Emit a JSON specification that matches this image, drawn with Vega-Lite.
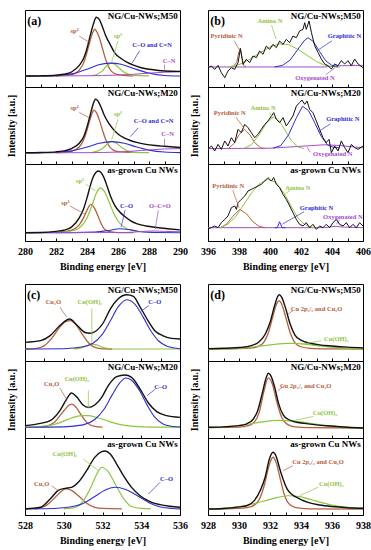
{
"$schema":"https://vega.github.io/schema/vega-lite/v6.json",
"padding":{"left":5,"top":9,"right":0,"bottom":0},
"spacing":11,
"vconcat":[
{"hconcat":[
{"vconcat":[
{"width":155,"height":77,"encoding":{"x":{"field":"x","type":"quantitative","scale":{"domain":[280,290],"nice":false,"zero":false},"axis":{"title":null,"labels":false,"domain":false,"tickSize":-3,"values":[280,281,282,283,284,285,286,287,288,289,290]}},"y":{"field":"y","type":"quantitative","scale":{"domain":[0,100],"nice":false},"axis":null},"color":{"field":"c","type":"nominal","scale":{"domain":["t","r","g","b","p"],"range":["#111111","#b5603c","#8dc63f","#2e2ed1","#a64cc9"]},"legend":null}},
"layer":[
{"data":{"name":"a1"},"mark":{"type":"line","interpolate":"monotone"},"encoding":{"strokeWidth":{"field":"c","type":"nominal","scale":{"domain":["t","r","g","b","p"],"range":[1.4,1,1,1,1]},"legend":null}}},
{"data":{"name":"arr"},"transform":[{"filter":"datum.p=='a1'"}],"mark":{"type":"rule","strokeWidth":0.7},"encoding":{"x2":{"field":"x2"},"y2":{"field":"y2"}}},
{"data":{"name":"lab"},"transform":[{"filter":"datum.p=='a1'"}],"mark":{"type":"text","fontSize":6.5},"encoding":{"text":{"field":"t"}}},
{"data":{"name":"tit"},"transform":[{"filter":"datum.p=='a1'"}],"mark":{"type":"text","align":"right","fontSize":9},"encoding":{"text":{"field":"t"},"color":{"value":"#000"}}},
{"data":{"name":"let"},"transform":[{"filter":"datum.p=='a'"}],"mark":{"type":"text","align":"left","fontSize":12},"encoding":{"text":{"field":"t"},"color":{"value":"#000"}}}
]},
{"width":155,"height":77,"encoding":{"x":{"field":"x","type":"quantitative","scale":{"domain":[280,290],"nice":false,"zero":false},"axis":{"title":null,"labels":false,"domain":false,"tickSize":-3,"values":[280,281,282,283,284,285,286,287,288,289,290]}},"y":{"field":"y","type":"quantitative","scale":{"domain":[0,100],"nice":false},"axis":{"title":"Intensity [a.u.]","labels":false,"ticks":false,"domain":false,"titlePadding":9}},"color":{"field":"c","type":"nominal","scale":{"domain":["t","r","g","b","p"],"range":["#111111","#b5603c","#8dc63f","#2e2ed1","#a64cc9"]},"legend":null}},
"layer":[
{"data":{"name":"a2"},"mark":{"type":"line","interpolate":"monotone"},"encoding":{"strokeWidth":{"field":"c","type":"nominal","scale":{"domain":["t","r","g","b","p"],"range":[1.4,1,1,1,1]},"legend":null}}},
{"data":{"name":"arr"},"transform":[{"filter":"datum.p=='a2'"}],"mark":{"type":"rule","strokeWidth":0.7},"encoding":{"x2":{"field":"x2"},"y2":{"field":"y2"}}},
{"data":{"name":"lab"},"transform":[{"filter":"datum.p=='a2'"}],"mark":{"type":"text","fontSize":6.5},"encoding":{"text":{"field":"t"}}},
{"data":{"name":"tit"},"transform":[{"filter":"datum.p=='a2'"}],"mark":{"type":"text","align":"right","fontSize":9},"encoding":{"text":{"field":"t"},"color":{"value":"#000"}}}
]},
{"width":155,"height":77,"encoding":{"x":{"field":"x","type":"quantitative","scale":{"domain":[280,290],"nice":false,"zero":false},"axis":{"title":"Binding energy [eV]","values":[280,281,282,283,284,285,286,287,288,289,290],"labelExpr":"datum.value % 2 == 0 ? datum.label : ''","tickSize":-3,"labelPadding":8,"labelFlush":false,"labelOverlap":false,"titlePadding":5,"domain":false}},"y":{"field":"y","type":"quantitative","scale":{"domain":[0,100],"nice":false},"axis":null},"color":{"field":"c","type":"nominal","scale":{"domain":["t","r","g","b","p"],"range":["#111111","#b5603c","#8dc63f","#2e2ed1","#a64cc9"]},"legend":null}},
"layer":[
{"data":{"name":"a3"},"mark":{"type":"line","interpolate":"monotone"},"encoding":{"strokeWidth":{"field":"c","type":"nominal","scale":{"domain":["t","r","g","b","p"],"range":[1.4,1,1,1,1]},"legend":null}}},
{"data":{"name":"arr"},"transform":[{"filter":"datum.p=='a3'"}],"mark":{"type":"rule","strokeWidth":0.7},"encoding":{"x2":{"field":"x2"},"y2":{"field":"y2"}}},
{"data":{"name":"lab"},"transform":[{"filter":"datum.p=='a3'"}],"mark":{"type":"text","fontSize":6.5},"encoding":{"text":{"field":"t"}}},
{"data":{"name":"tit"},"transform":[{"filter":"datum.p=='a3'"}],"mark":{"type":"text","align":"right","fontSize":9},"encoding":{"text":{"field":"t"},"color":{"value":"#000"}}}
]}
],"spacing":0,"bounds":"flush"},
{"vconcat":[
{"width":155,"height":77,"encoding":{"x":{"field":"x","type":"quantitative","scale":{"domain":[396,406],"nice":false,"zero":false},"axis":{"title":null,"labels":false,"domain":false,"tickSize":-3,"values":[396,397,398,399,400,401,402,403,404,405,406]}},"y":{"field":"y","type":"quantitative","scale":{"domain":[0,100],"nice":false},"axis":null},"color":{"field":"c","type":"nominal","scale":{"domain":["t","r","g","b","p"],"range":["#111111","#b5603c","#8dc63f","#2e2ed1","#a64cc9"]},"legend":null}},
"layer":[
{"data":{"name":"b1"},"mark":{"type":"line","interpolate":"linear","strokeWidth":1}},
{"data":{"name":"arr"},"transform":[{"filter":"datum.p=='b1'"}],"mark":{"type":"rule","strokeWidth":0.7},"encoding":{"x2":{"field":"x2"},"y2":{"field":"y2"}}},
{"data":{"name":"lab"},"transform":[{"filter":"datum.p=='b1'"}],"mark":{"type":"text","fontSize":6.5},"encoding":{"text":{"field":"t"}}},
{"data":{"name":"tit"},"transform":[{"filter":"datum.p=='b1'"}],"mark":{"type":"text","align":"right","fontSize":9},"encoding":{"text":{"field":"t"},"color":{"value":"#000"}}},
{"data":{"name":"let"},"transform":[{"filter":"datum.p=='b'"}],"mark":{"type":"text","align":"left","fontSize":12},"encoding":{"text":{"field":"t"},"color":{"value":"#000"}}}
]},
{"width":155,"height":77,"encoding":{"x":{"field":"x","type":"quantitative","scale":{"domain":[396,406],"nice":false,"zero":false},"axis":{"title":null,"labels":false,"domain":false,"tickSize":-3,"values":[396,397,398,399,400,401,402,403,404,405,406]}},"y":{"field":"y","type":"quantitative","scale":{"domain":[0,100],"nice":false},"axis":{"title":"Intensity [a.u.]","labels":false,"ticks":false,"domain":false,"titlePadding":9}},"color":{"field":"c","type":"nominal","scale":{"domain":["t","r","g","b","p"],"range":["#111111","#b5603c","#8dc63f","#2e2ed1","#a64cc9"]},"legend":null}},
"layer":[
{"data":{"name":"b2"},"mark":{"type":"line","interpolate":"linear","strokeWidth":1}},
{"data":{"name":"arr"},"transform":[{"filter":"datum.p=='b2'"}],"mark":{"type":"rule","strokeWidth":0.7},"encoding":{"x2":{"field":"x2"},"y2":{"field":"y2"}}},
{"data":{"name":"lab"},"transform":[{"filter":"datum.p=='b2'"}],"mark":{"type":"text","fontSize":6.5},"encoding":{"text":{"field":"t"}}},
{"data":{"name":"tit"},"transform":[{"filter":"datum.p=='b2'"}],"mark":{"type":"text","align":"right","fontSize":9},"encoding":{"text":{"field":"t"},"color":{"value":"#000"}}}
]},
{"width":155,"height":77,"encoding":{"x":{"field":"x","type":"quantitative","scale":{"domain":[396,406],"nice":false,"zero":false},"axis":{"title":"Binding energy [eV]","values":[396,397,398,399,400,401,402,403,404,405,406],"labelExpr":"datum.value % 2 == 0 ? datum.label : ''","tickSize":-3,"labelPadding":8,"labelFlush":false,"labelOverlap":false,"titlePadding":5,"domain":false}},"y":{"field":"y","type":"quantitative","scale":{"domain":[0,100],"nice":false},"axis":null},"color":{"field":"c","type":"nominal","scale":{"domain":["t","r","g","b","p"],"range":["#111111","#b5603c","#8dc63f","#2e2ed1","#a64cc9"]},"legend":null}},
"layer":[
{"data":{"name":"b3"},"mark":{"type":"line","interpolate":"linear","strokeWidth":1}},
{"data":{"name":"arr"},"transform":[{"filter":"datum.p=='b3'"}],"mark":{"type":"rule","strokeWidth":0.7},"encoding":{"x2":{"field":"x2"},"y2":{"field":"y2"}}},
{"data":{"name":"lab"},"transform":[{"filter":"datum.p=='b3'"}],"mark":{"type":"text","fontSize":6.5},"encoding":{"text":{"field":"t"}}},
{"data":{"name":"tit"},"transform":[{"filter":"datum.p=='b3'"}],"mark":{"type":"text","align":"right","fontSize":9},"encoding":{"text":{"field":"t"},"color":{"value":"#000"}}}
]}
],"spacing":0,"bounds":"flush"}
],"spacing":0},
{"hconcat":[
{"vconcat":[
{"width":155,"height":77,"encoding":{"x":{"field":"x","type":"quantitative","scale":{"domain":[528,536],"nice":false,"zero":false},"axis":{"title":null,"labels":false,"domain":false,"tickSize":-3,"values":[528,529,530,531,532,533,534,535,536]}},"y":{"field":"y","type":"quantitative","scale":{"domain":[0,100],"nice":false},"axis":null},"color":{"field":"c","type":"nominal","scale":{"domain":["t","r","g","b","p"],"range":["#111111","#b5603c","#8dc63f","#2e2ed1","#a64cc9"]},"legend":null}},
"layer":[
{"data":{"name":"c1"},"mark":{"type":"line","interpolate":"monotone"},"encoding":{"strokeWidth":{"field":"c","type":"nominal","scale":{"domain":["t","r","g","b","p"],"range":[1.4,1,1,1,1]},"legend":null}}},
{"data":{"name":"arr"},"transform":[{"filter":"datum.p=='c1'"}],"mark":{"type":"rule","strokeWidth":0.7},"encoding":{"x2":{"field":"x2"},"y2":{"field":"y2"}}},
{"data":{"name":"lab"},"transform":[{"filter":"datum.p=='c1'"}],"mark":{"type":"text","fontSize":6.5},"encoding":{"text":{"field":"t"}}},
{"data":{"name":"tit"},"transform":[{"filter":"datum.p=='c1'"}],"mark":{"type":"text","align":"right","fontSize":9},"encoding":{"text":{"field":"t"},"color":{"value":"#000"}}},
{"data":{"name":"let"},"transform":[{"filter":"datum.p=='c'"}],"mark":{"type":"text","align":"left","fontSize":12},"encoding":{"text":{"field":"t"},"color":{"value":"#000"}}}
]},
{"width":155,"height":77,"encoding":{"x":{"field":"x","type":"quantitative","scale":{"domain":[528,536],"nice":false,"zero":false},"axis":{"title":null,"labels":false,"domain":false,"tickSize":-3,"values":[528,529,530,531,532,533,534,535,536]}},"y":{"field":"y","type":"quantitative","scale":{"domain":[0,100],"nice":false},"axis":{"title":"Intensity [a.u.]","labels":false,"ticks":false,"domain":false,"titlePadding":9}},"color":{"field":"c","type":"nominal","scale":{"domain":["t","r","g","b","p"],"range":["#111111","#b5603c","#8dc63f","#2e2ed1","#a64cc9"]},"legend":null}},
"layer":[
{"data":{"name":"c2"},"mark":{"type":"line","interpolate":"monotone"},"encoding":{"strokeWidth":{"field":"c","type":"nominal","scale":{"domain":["t","r","g","b","p"],"range":[1.4,1,1,1,1]},"legend":null}}},
{"data":{"name":"arr"},"transform":[{"filter":"datum.p=='c2'"}],"mark":{"type":"rule","strokeWidth":0.7},"encoding":{"x2":{"field":"x2"},"y2":{"field":"y2"}}},
{"data":{"name":"lab"},"transform":[{"filter":"datum.p=='c2'"}],"mark":{"type":"text","fontSize":6.5},"encoding":{"text":{"field":"t"}}},
{"data":{"name":"tit"},"transform":[{"filter":"datum.p=='c2'"}],"mark":{"type":"text","align":"right","fontSize":9},"encoding":{"text":{"field":"t"},"color":{"value":"#000"}}}
]},
{"width":155,"height":77,"encoding":{"x":{"field":"x","type":"quantitative","scale":{"domain":[528,536],"nice":false,"zero":false},"axis":{"title":"Binding energy [eV]","values":[528,529,530,531,532,533,534,535,536],"labelExpr":"datum.value % 2 == 0 ? datum.label : ''","tickSize":-3,"labelPadding":8,"labelFlush":false,"labelOverlap":false,"titlePadding":5,"domain":false}},"y":{"field":"y","type":"quantitative","scale":{"domain":[0,100],"nice":false},"axis":null},"color":{"field":"c","type":"nominal","scale":{"domain":["t","r","g","b","p"],"range":["#111111","#b5603c","#8dc63f","#2e2ed1","#a64cc9"]},"legend":null}},
"layer":[
{"data":{"name":"c3"},"mark":{"type":"line","interpolate":"monotone"},"encoding":{"strokeWidth":{"field":"c","type":"nominal","scale":{"domain":["t","r","g","b","p"],"range":[1.4,1,1,1,1]},"legend":null}}},
{"data":{"name":"arr"},"transform":[{"filter":"datum.p=='c3'"}],"mark":{"type":"rule","strokeWidth":0.7},"encoding":{"x2":{"field":"x2"},"y2":{"field":"y2"}}},
{"data":{"name":"lab"},"transform":[{"filter":"datum.p=='c3'"}],"mark":{"type":"text","fontSize":6.5},"encoding":{"text":{"field":"t"}}},
{"data":{"name":"tit"},"transform":[{"filter":"datum.p=='c3'"}],"mark":{"type":"text","align":"right","fontSize":9},"encoding":{"text":{"field":"t"},"color":{"value":"#000"}}}
]}
],"spacing":0,"bounds":"flush"},
{"vconcat":[
{"width":155,"height":77,"encoding":{"x":{"field":"x","type":"quantitative","scale":{"domain":[928,938],"nice":false,"zero":false},"axis":{"title":null,"labels":false,"domain":false,"tickSize":-3,"values":[928,929,930,931,932,933,934,935,936,937,938]}},"y":{"field":"y","type":"quantitative","scale":{"domain":[0,100],"nice":false},"axis":null},"color":{"field":"c","type":"nominal","scale":{"domain":["t","r","g","b","p"],"range":["#111111","#b5603c","#8dc63f","#2e2ed1","#a64cc9"]},"legend":null}},
"layer":[
{"data":{"name":"d1"},"mark":{"type":"line","interpolate":"monotone"},"encoding":{"strokeWidth":{"field":"c","type":"nominal","scale":{"domain":["t","r","g","b","p"],"range":[1.4,1,1,1,1]},"legend":null}}},
{"data":{"name":"arr"},"transform":[{"filter":"datum.p=='d1'"}],"mark":{"type":"rule","strokeWidth":0.7},"encoding":{"x2":{"field":"x2"},"y2":{"field":"y2"}}},
{"data":{"name":"lab"},"transform":[{"filter":"datum.p=='d1'"}],"mark":{"type":"text","fontSize":6.5},"encoding":{"text":{"field":"t"}}},
{"data":{"name":"tit"},"transform":[{"filter":"datum.p=='d1'"}],"mark":{"type":"text","align":"right","fontSize":9},"encoding":{"text":{"field":"t"},"color":{"value":"#000"}}},
{"data":{"name":"let"},"transform":[{"filter":"datum.p=='d'"}],"mark":{"type":"text","align":"left","fontSize":12},"encoding":{"text":{"field":"t"},"color":{"value":"#000"}}}
]},
{"width":155,"height":77,"encoding":{"x":{"field":"x","type":"quantitative","scale":{"domain":[928,938],"nice":false,"zero":false},"axis":{"title":null,"labels":false,"domain":false,"tickSize":-3,"values":[928,929,930,931,932,933,934,935,936,937,938]}},"y":{"field":"y","type":"quantitative","scale":{"domain":[0,100],"nice":false},"axis":{"title":"Intensity [a.u.]","labels":false,"ticks":false,"domain":false,"titlePadding":9}},"color":{"field":"c","type":"nominal","scale":{"domain":["t","r","g","b","p"],"range":["#111111","#b5603c","#8dc63f","#2e2ed1","#a64cc9"]},"legend":null}},
"layer":[
{"data":{"name":"d2"},"mark":{"type":"line","interpolate":"monotone"},"encoding":{"strokeWidth":{"field":"c","type":"nominal","scale":{"domain":["t","r","g","b","p"],"range":[1.4,1,1,1,1]},"legend":null}}},
{"data":{"name":"arr"},"transform":[{"filter":"datum.p=='d2'"}],"mark":{"type":"rule","strokeWidth":0.7},"encoding":{"x2":{"field":"x2"},"y2":{"field":"y2"}}},
{"data":{"name":"lab"},"transform":[{"filter":"datum.p=='d2'"}],"mark":{"type":"text","fontSize":6.5},"encoding":{"text":{"field":"t"}}},
{"data":{"name":"tit"},"transform":[{"filter":"datum.p=='d2'"}],"mark":{"type":"text","align":"right","fontSize":9},"encoding":{"text":{"field":"t"},"color":{"value":"#000"}}}
]},
{"width":155,"height":77,"encoding":{"x":{"field":"x","type":"quantitative","scale":{"domain":[928,938],"nice":false,"zero":false},"axis":{"title":"Binding energy [eV]","values":[928,929,930,931,932,933,934,935,936,937,938],"labelExpr":"datum.value % 2 == 0 ? datum.label : ''","tickSize":-3,"labelPadding":8,"labelFlush":false,"labelOverlap":false,"titlePadding":5,"domain":false}},"y":{"field":"y","type":"quantitative","scale":{"domain":[0,100],"nice":false},"axis":null},"color":{"field":"c","type":"nominal","scale":{"domain":["t","r","g","b","p"],"range":["#111111","#b5603c","#8dc63f","#2e2ed1","#a64cc9"]},"legend":null}},
"layer":[
{"data":{"name":"d3"},"mark":{"type":"line","interpolate":"monotone"},"encoding":{"strokeWidth":{"field":"c","type":"nominal","scale":{"domain":["t","r","g","b","p"],"range":[1.4,1,1,1,1]},"legend":null}}},
{"data":{"name":"arr"},"transform":[{"filter":"datum.p=='d3'"}],"mark":{"type":"rule","strokeWidth":0.7},"encoding":{"x2":{"field":"x2"},"y2":{"field":"y2"}}},
{"data":{"name":"lab"},"transform":[{"filter":"datum.p=='d3'"}],"mark":{"type":"text","fontSize":6.5},"encoding":{"text":{"field":"t"}}},
{"data":{"name":"tit"},"transform":[{"filter":"datum.p=='d3'"}],"mark":{"type":"text","align":"right","fontSize":9},"encoding":{"text":{"field":"t"},"color":{"value":"#000"}}}
]}
],"spacing":0,"bounds":"flush"}
],"spacing":0}
],
"datasets":{
"a1":[{"c":"r","x":282,"y":14.3},{"c":"r","x":283,"y":16},{"c":"r","x":283.5,"y":22},{"c":"r","x":283.8,"y":32},{"c":"r","x":284,"y":45},{"c":"r","x":284.2,"y":60},{"c":"r","x":284.4,"y":72},{"c":"r","x":284.5,"y":75},{"c":"r","x":284.6,"y":73},{"c":"r","x":284.8,"y":64},{"c":"r","x":285,"y":50},{"c":"r","x":285.2,"y":36},{"c":"r","x":285.4,"y":26},{"c":"r","x":285.6,"y":20},{"c":"r","x":286,"y":16},{"c":"r","x":286.5,"y":14.8},{"c":"r","x":287,"y":14.5},
{"c":"g","x":284.3,"y":14.5},{"c":"g","x":284.7,"y":17},{"c":"g","x":285,"y":21},{"c":"g","x":285.3,"y":28},{"c":"g","x":285.6,"y":31},{"c":"g","x":285.9,"y":28},{"c":"g","x":286.2,"y":22},{"c":"g","x":286.6,"y":17},{"c":"g","x":287,"y":15},{"c":"g","x":288,"y":14.5},
{"c":"b","x":280,"y":14},{"c":"b","x":282,"y":14.8},{"c":"b","x":283,"y":17},{"c":"b","x":284,"y":23},{"c":"b","x":284.7,"y":28.5},{"c":"b","x":285.5,"y":31},{"c":"b","x":286.2,"y":29.5},{"c":"b","x":287,"y":24},{"c":"b","x":288,"y":18},{"c":"b","x":289,"y":15},{"c":"b","x":290,"y":14.2},
{"c":"p","x":280,"y":14.3},{"c":"p","x":284,"y":14.6},{"c":"p","x":286,"y":15.5},{"c":"p","x":287,"y":16.5},{"c":"p","x":288,"y":18},{"c":"p","x":289,"y":19.2},{"c":"p","x":290,"y":19.6},
{"c":"t","x":280,"y":14.3},{"c":"t","x":281,"y":14.5},{"c":"t","x":282,"y":15.2},{"c":"t","x":282.5,"y":16.5},{"c":"t","x":283,"y":19.5},{"c":"t","x":283.5,"y":28},{"c":"t","x":283.8,"y":38},{"c":"t","x":284,"y":50},{"c":"t","x":284.2,"y":66},{"c":"t","x":284.4,"y":81},{"c":"t","x":284.6,"y":90.5},{"c":"t","x":284.8,"y":87.5},{"c":"t","x":285,"y":78},{"c":"t","x":285.2,"y":67},{"c":"t","x":285.5,"y":55},{"c":"t","x":285.8,"y":44},{"c":"t","x":286.2,"y":37},{"c":"t","x":286.6,"y":32},{"c":"t","x":287,"y":28.5},{"c":"t","x":287.5,"y":25},{"c":"t","x":288,"y":23},{"c":"t","x":288.5,"y":21.8},{"c":"t","x":289,"y":20.8},{"c":"t","x":290,"y":20.3}],
"a2":[{"c":"r","x":282,"y":14.7},{"c":"r","x":283,"y":16.5},{"c":"r","x":283.5,"y":22},{"c":"r","x":283.8,"y":32},{"c":"r","x":284,"y":44},{"c":"r","x":284.2,"y":58},{"c":"r","x":284.4,"y":69},{"c":"r","x":284.45,"y":70},{"c":"r","x":284.6,"y":67},{"c":"r","x":284.8,"y":57},{"c":"r","x":285,"y":44},{"c":"r","x":285.2,"y":32},{"c":"r","x":285.4,"y":24},{"c":"r","x":285.7,"y":18},{"c":"r","x":286,"y":16},{"c":"r","x":287,"y":15},
{"c":"g","x":284.3,"y":14.8},{"c":"g","x":284.7,"y":17},{"c":"g","x":285,"y":20},{"c":"g","x":285.3,"y":26},{"c":"g","x":285.6,"y":29.5},{"c":"g","x":285.9,"y":27},{"c":"g","x":286.2,"y":22},{"c":"g","x":286.6,"y":17},{"c":"g","x":287,"y":15},{"c":"g","x":288,"y":14.7},
{"c":"b","x":280,"y":14.5},{"c":"b","x":282,"y":15},{"c":"b","x":283,"y":17},{"c":"b","x":284,"y":22},{"c":"b","x":284.8,"y":27},{"c":"b","x":285.6,"y":29},{"c":"b","x":286.4,"y":27},{"c":"b","x":287.2,"y":22},{"c":"b","x":288,"y":18},{"c":"b","x":289,"y":15.5},{"c":"b","x":290,"y":14.8},
{"c":"p","x":280,"y":14.5},{"c":"p","x":284,"y":14.7},{"c":"p","x":286,"y":15.5},{"c":"p","x":287.5,"y":17.5},{"c":"p","x":289,"y":19.5},{"c":"p","x":290,"y":20},
{"c":"t","x":280,"y":14.7},{"c":"t","x":281,"y":15},{"c":"t","x":282,"y":15.8},{"c":"t","x":282.5,"y":17},{"c":"t","x":283,"y":20},{"c":"t","x":283.5,"y":27},{"c":"t","x":283.8,"y":36},{"c":"t","x":284,"y":48},{"c":"t","x":284.2,"y":63},{"c":"t","x":284.4,"y":78},{"c":"t","x":284.55,"y":84},{"c":"t","x":284.7,"y":82},{"c":"t","x":284.9,"y":74},{"c":"t","x":285.1,"y":64},{"c":"t","x":285.4,"y":53},{"c":"t","x":285.7,"y":45},{"c":"t","x":286,"y":39},{"c":"t","x":286.4,"y":34},{"c":"t","x":286.8,"y":30.5},{"c":"t","x":287.2,"y":28},{"c":"t","x":287.8,"y":25.5},{"c":"t","x":288.4,"y":24},{"c":"t","x":289,"y":23},{"c":"t","x":290,"y":21.5}],
"a3":[{"c":"r","x":282,"y":10.8},{"c":"r","x":283,"y":14},{"c":"r","x":283.5,"y":21},{"c":"r","x":283.8,"y":31},{"c":"r","x":284,"y":40},{"c":"r","x":284.25,"y":47.5},{"c":"r","x":284.5,"y":42},{"c":"r","x":284.7,"y":33},{"c":"r","x":284.9,"y":23},{"c":"r","x":285.1,"y":16},{"c":"r","x":285.4,"y":12.5},{"c":"r","x":286,"y":11},{"c":"r","x":287,"y":10.8},
{"c":"g","x":282,"y":10.8},{"c":"g","x":283,"y":13},{"c":"g","x":283.5,"y":17},{"c":"g","x":284,"y":30},{"c":"g","x":284.3,"y":45},{"c":"g","x":284.6,"y":62},{"c":"g","x":284.85,"y":69},{"c":"g","x":285.1,"y":65},{"c":"g","x":285.4,"y":52},{"c":"g","x":285.7,"y":37},{"c":"g","x":286,"y":26},{"c":"g","x":286.4,"y":18},{"c":"g","x":287,"y":13.5},{"c":"g","x":287.5,"y":12},{"c":"g","x":288.5,"y":11},
{"c":"b","x":280,"y":10.8},{"c":"b","x":283,"y":10.9},{"c":"b","x":284.5,"y":11.5},{"c":"b","x":285.5,"y":14},{"c":"b","x":286.1,"y":16},{"c":"b","x":286.8,"y":14.5},{"c":"b","x":287.5,"y":12},{"c":"b","x":288.5,"y":11},{"c":"b","x":290,"y":10.8},
{"c":"p","x":280,"y":10.8},{"c":"p","x":286.5,"y":11},{"c":"p","x":287.5,"y":12.3},{"c":"p","x":288.3,"y":13},{"c":"p","x":289,"y":12.5},{"c":"p","x":290,"y":12},
{"c":"t","x":280,"y":10.8},{"c":"t","x":281,"y":11},{"c":"t","x":282,"y":12.5},{"c":"t","x":282.5,"y":14},{"c":"t","x":283,"y":18},{"c":"t","x":283.5,"y":30},{"c":"t","x":283.8,"y":43},{"c":"t","x":284,"y":56},{"c":"t","x":284.2,"y":71},{"c":"t","x":284.4,"y":83},{"c":"t","x":284.6,"y":89.5},{"c":"t","x":284.75,"y":91},{"c":"t","x":284.9,"y":89},{"c":"t","x":285.1,"y":82},{"c":"t","x":285.3,"y":71},{"c":"t","x":285.5,"y":59},{"c":"t","x":285.8,"y":46},{"c":"t","x":286.1,"y":38},{"c":"t","x":286.4,"y":32.5},{"c":"t","x":286.8,"y":26.5},{"c":"t","x":287.2,"y":22.5},{"c":"t","x":287.8,"y":19.5},{"c":"t","x":288.5,"y":17.5},{"c":"t","x":289.2,"y":16},{"c":"t","x":290,"y":14.5}],
"b1":[{"c":"p","x":396,"y":26},{"c":"p","x":403.5,"y":26},{"c":"p","x":404.5,"y":27.5},{"c":"p","x":405.5,"y":28},{"c":"p","x":406,"y":27.5},
{"c":"r","x":397.6,"y":26},{"c":"r","x":397.85,"y":32},{"c":"r","x":398,"y":46},{"c":"r","x":398.08,"y":50},{"c":"r","x":398.2,"y":38},{"c":"r","x":398.3,"y":28},{"c":"r","x":398.45,"y":26},
{"c":"g","x":397.3,"y":26},{"c":"g","x":398,"y":29},{"c":"g","x":398.7,"y":36},{"c":"g","x":399.4,"y":45},{"c":"g","x":400,"y":52},{"c":"g","x":400.6,"y":56},{"c":"g","x":401.2,"y":55},{"c":"g","x":401.8,"y":49},{"c":"g","x":402.4,"y":41},{"c":"g","x":403,"y":33},{"c":"g","x":403.5,"y":28.5},{"c":"g","x":404,"y":26.5},{"c":"g","x":404.5,"y":26},
{"c":"b","x":400.3,"y":26},{"c":"b","x":400.8,"y":28},{"c":"b","x":401.3,"y":35},{"c":"b","x":401.8,"y":49},{"c":"b","x":402.2,"y":60},{"c":"b","x":402.45,"y":64},{"c":"b","x":402.8,"y":59},{"c":"b","x":403.2,"y":46},{"c":"b","x":403.6,"y":34},{"c":"b","x":404,"y":28},{"c":"b","x":404.4,"y":26},
{"c":"t","x":396,"y":25.1},{"c":"t","x":396.22,"y":27.3},{"c":"t","x":396.43,"y":22.9},{"c":"t","x":396.65,"y":28.1},{"c":"t","x":396.86,"y":18.6},{"c":"t","x":397.08,"y":12.1},{"c":"t","x":397.29,"y":20.8},{"c":"t","x":397.51,"y":25.1},{"c":"t","x":397.72,"y":22.9},{"c":"t","x":397.94,"y":31.6},{"c":"t","x":398.09,"y":50},{"c":"t","x":398.26,"y":29.4},{"c":"t","x":398.47,"y":35.9},{"c":"t","x":398.69,"y":31.6},{"c":"t","x":398.9,"y":40.3},{"c":"t","x":399.12,"y":38.1},{"c":"t","x":399.33,"y":46.8},{"c":"t","x":399.55,"y":42.4},{"c":"t","x":399.76,"y":53.2},{"c":"t","x":399.98,"y":48.9},{"c":"t","x":400.19,"y":55.4},{"c":"t","x":400.41,"y":51.1},{"c":"t","x":400.62,"y":59.7},{"c":"t","x":400.84,"y":55.4},{"c":"t","x":401.05,"y":61.9},{"c":"t","x":401.27,"y":57.6},{"c":"t","x":401.48,"y":66.2},{"c":"t","x":401.7,"y":64.1},{"c":"t","x":401.91,"y":72.7},{"c":"t","x":402.13,"y":74.9},{"c":"t","x":402.24,"y":83.5},{"c":"t","x":402.34,"y":74.9},{"c":"t","x":402.52,"y":85.7},{"c":"t","x":402.67,"y":71},{"c":"t","x":402.88,"y":53.7},{"c":"t","x":403.1,"y":45},{"c":"t","x":403.31,"y":36.4},{"c":"t","x":403.53,"y":29.9},{"c":"t","x":403.74,"y":27.7},{"c":"t","x":403.96,"y":23.4},{"c":"t","x":404.17,"y":29.9},{"c":"t","x":404.39,"y":27.7},{"c":"t","x":404.6,"y":34.2},{"c":"t","x":404.82,"y":29.9},{"c":"t","x":405.03,"y":34.2},{"c":"t","x":405.25,"y":27.7},{"c":"t","x":405.46,"y":36.4},{"c":"t","x":405.68,"y":29.9},{"c":"t","x":406,"y":25.1}],
"b2":[{"c":"p","x":396,"y":20},{"c":"p","x":400,"y":20.5},{"c":"p","x":402,"y":23},{"c":"p","x":403.5,"y":25},{"c":"p","x":404.5,"y":24},{"c":"p","x":406,"y":21},
{"c":"r","x":397.3,"y":20},{"c":"r","x":397.7,"y":27},{"c":"r","x":398,"y":38},{"c":"r","x":398.35,"y":45},{"c":"r","x":398.7,"y":38},{"c":"r","x":399,"y":28},{"c":"r","x":399.4,"y":21},{"c":"r","x":399.7,"y":20},
{"c":"g","x":398.3,"y":20},{"c":"g","x":398.8,"y":25},{"c":"g","x":399.3,"y":38},{"c":"g","x":399.8,"y":54},{"c":"g","x":400.2,"y":61},{"c":"g","x":400.6,"y":56},{"c":"g","x":401,"y":43},{"c":"g","x":401.4,"y":30},{"c":"g","x":401.8,"y":22},{"c":"g","x":402.2,"y":20},
{"c":"b","x":400.2,"y":20.5},{"c":"b","x":400.7,"y":24},{"c":"b","x":401.2,"y":38},{"c":"b","x":401.7,"y":60},{"c":"b","x":402.1,"y":75},{"c":"b","x":402.5,"y":69},{"c":"b","x":402.9,"y":53},{"c":"b","x":403.3,"y":36},{"c":"b","x":403.7,"y":25},{"c":"b","x":404.1,"y":21.5},{"c":"b","x":404.5,"y":21},
{"c":"t","x":396,"y":19},{"c":"t","x":396.22,"y":23.4},{"c":"t","x":396.43,"y":16.9},{"c":"t","x":396.65,"y":25.5},{"c":"t","x":396.86,"y":19},{"c":"t","x":397.08,"y":29.9},{"c":"t","x":397.29,"y":23.4},{"c":"t","x":397.51,"y":34.2},{"c":"t","x":397.72,"y":27.7},{"c":"t","x":397.94,"y":45},{"c":"t","x":398.15,"y":40.7},{"c":"t","x":398.37,"y":51.5},{"c":"t","x":398.58,"y":47.2},{"c":"t","x":398.8,"y":40.7},{"c":"t","x":399.01,"y":34.2},{"c":"t","x":399.23,"y":38.5},{"c":"t","x":399.44,"y":45},{"c":"t","x":399.66,"y":51.5},{"c":"t","x":399.87,"y":55.8},{"c":"t","x":400.09,"y":62.3},{"c":"t","x":400.24,"y":66.7},{"c":"t","x":400.41,"y":58},{"c":"t","x":400.62,"y":53.7},{"c":"t","x":400.84,"y":60.2},{"c":"t","x":401.05,"y":49.4},{"c":"t","x":401.27,"y":55.8},{"c":"t","x":401.48,"y":62.3},{"c":"t","x":401.7,"y":75.3},{"c":"t","x":401.91,"y":79.7},{"c":"t","x":402.06,"y":83.1},{"c":"t","x":402.24,"y":77.5},{"c":"t","x":402.39,"y":81.8},{"c":"t","x":402.56,"y":71},{"c":"t","x":402.77,"y":66.7},{"c":"t","x":402.99,"y":55.8},{"c":"t","x":403.2,"y":45},{"c":"t","x":403.42,"y":34.2},{"c":"t","x":403.63,"y":27.7},{"c":"t","x":403.81,"y":32},{"c":"t","x":403.96,"y":14.7},{"c":"t","x":404.17,"y":23.4},{"c":"t","x":404.39,"y":16.9},{"c":"t","x":404.6,"y":29.9},{"c":"t","x":404.82,"y":21.2},{"c":"t","x":405.03,"y":14.7},{"c":"t","x":405.25,"y":25.5},{"c":"t","x":405.46,"y":21.2},{"c":"t","x":405.68,"y":19},{"c":"t","x":406,"y":23.4}],
"b3":[{"c":"p","x":396,"y":17.3},{"c":"p","x":403.5,"y":17.3},{"c":"p","x":404.2,"y":19},{"c":"p","x":404.8,"y":18},{"c":"p","x":406,"y":17.3},
{"c":"r","x":396.8,"y":17.3},{"c":"r","x":397.2,"y":22},{"c":"r","x":397.6,"y":32},{"c":"r","x":398.05,"y":41},{"c":"r","x":398.5,"y":35},{"c":"r","x":398.9,"y":25},{"c":"r","x":399.3,"y":19},{"c":"r","x":399.7,"y":17.3},
{"c":"g","x":396.8,"y":17.3},{"c":"g","x":397.3,"y":22},{"c":"g","x":397.8,"y":32},{"c":"g","x":398.3,"y":47},{"c":"g","x":398.8,"y":62},{"c":"g","x":399.3,"y":74},{"c":"g","x":399.85,"y":80},{"c":"g","x":400.4,"y":76},{"c":"g","x":400.9,"y":62},{"c":"g","x":401.4,"y":44},{"c":"g","x":401.8,"y":30},{"c":"g","x":402.2,"y":22},{"c":"g","x":402.6,"y":18},{"c":"g","x":403,"y":17.3},
{"c":"b","x":400.3,"y":17.3},{"c":"b","x":400.47,"y":17.3},{"c":"b","x":400.62,"y":25},{"c":"b","x":400.78,"y":17.3},{"c":"b","x":401,"y":17.3},
{"c":"t","x":396,"y":16},{"c":"t","x":396.22,"y":17.3},{"c":"t","x":396.43,"y":19.5},{"c":"t","x":396.65,"y":17.3},{"c":"t","x":396.86,"y":23.8},{"c":"t","x":397.08,"y":28.1},{"c":"t","x":397.29,"y":32.5},{"c":"t","x":397.51,"y":43.3},{"c":"t","x":397.72,"y":45.5},{"c":"t","x":397.83,"y":41.1},{"c":"t","x":397.94,"y":49.8},{"c":"t","x":398.15,"y":54.1},{"c":"t","x":398.37,"y":58.4},{"c":"t","x":398.58,"y":64.9},{"c":"t","x":398.8,"y":67.1},{"c":"t","x":399.01,"y":69.3},{"c":"t","x":399.23,"y":71.4},{"c":"t","x":399.44,"y":73.6},{"c":"t","x":399.66,"y":77.9},{"c":"t","x":399.87,"y":82.3},{"c":"t","x":399.98,"y":80.1},{"c":"t","x":400.09,"y":77.9},{"c":"t","x":400.24,"y":82.3},{"c":"t","x":400.41,"y":73.6},{"c":"t","x":400.62,"y":69.3},{"c":"t","x":400.84,"y":60.6},{"c":"t","x":401.05,"y":54.1},{"c":"t","x":401.27,"y":45.5},{"c":"t","x":401.48,"y":36.8},{"c":"t","x":401.7,"y":28.1},{"c":"t","x":401.91,"y":21.6},{"c":"t","x":402.13,"y":19.5},{"c":"t","x":402.34,"y":23.8},{"c":"t","x":402.56,"y":17.3},{"c":"t","x":402.77,"y":21.6},{"c":"t","x":402.99,"y":15.2},{"c":"t","x":403.2,"y":19.5},{"c":"t","x":403.42,"y":17.3},{"c":"t","x":403.63,"y":21.6},{"c":"t","x":403.85,"y":17.3},{"c":"t","x":404.06,"y":23.8},{"c":"t","x":404.28,"y":28.1},{"c":"t","x":404.49,"y":21.6},{"c":"t","x":404.71,"y":19.5},{"c":"t","x":404.92,"y":23.8},{"c":"t","x":405.14,"y":17.3},{"c":"t","x":405.35,"y":21.6},{"c":"t","x":405.57,"y":17.3},{"c":"t","x":405.78,"y":23.8},{"c":"t","x":406,"y":19.5}],
"c1":[{"c":"r","x":528,"y":15.6},{"c":"r","x":528.6,"y":16.5},{"c":"r","x":529,"y":20},{"c":"r","x":529.4,"y":30},{"c":"r","x":529.8,"y":44},{"c":"r","x":530.1,"y":51},{"c":"r","x":530.35,"y":52.5},{"c":"r","x":530.6,"y":48},{"c":"r","x":530.9,"y":37},{"c":"r","x":531.2,"y":26},{"c":"r","x":531.5,"y":19},{"c":"r","x":531.9,"y":16.2},{"c":"r","x":532.5,"y":15.6},
{"c":"g","x":530.5,"y":15.6},{"c":"g","x":530.9,"y":17},{"c":"g","x":531.2,"y":20},{"c":"g","x":531.45,"y":22},{"c":"g","x":531.75,"y":20.5},{"c":"g","x":532.1,"y":17},{"c":"g","x":532.5,"y":15.6},{"c":"g","x":536,"y":15.6},
{"c":"b","x":528,"y":15.6},{"c":"b","x":530,"y":16},{"c":"b","x":531,"y":18.5},{"c":"b","x":531.5,"y":23},{"c":"b","x":532,"y":35},{"c":"b","x":532.4,"y":52},{"c":"b","x":532.8,"y":70},{"c":"b","x":533.25,"y":79.6},{"c":"b","x":533.7,"y":73},{"c":"b","x":534.1,"y":57},{"c":"b","x":534.5,"y":39},{"c":"b","x":534.9,"y":26},{"c":"b","x":535.3,"y":19.5},{"c":"b","x":535.7,"y":16.8},{"c":"b","x":536,"y":16},
{"c":"t","x":528,"y":24.2},{"c":"t","x":528.8,"y":26.4},{"c":"t","x":529.3,"y":33},{"c":"t","x":529.8,"y":46},{"c":"t","x":530.3,"y":54.5},{"c":"t","x":530.7,"y":46},{"c":"t","x":531.1,"y":37},{"c":"t","x":531.35,"y":36},{"c":"t","x":531.6,"y":38},{"c":"t","x":532.05,"y":50},{"c":"t","x":532.4,"y":67.5},{"c":"t","x":532.8,"y":80.5},{"c":"t","x":533.25,"y":86},{"c":"t","x":533.6,"y":84},{"c":"t","x":533.9,"y":72},{"c":"t","x":534.35,"y":52.4},{"c":"t","x":534.7,"y":39.4},{"c":"t","x":535.1,"y":33},{"c":"t","x":535.55,"y":29.4},{"c":"t","x":536,"y":28.6}],
"c2":[{"c":"r","x":528.8,"y":14},{"c":"r","x":529.2,"y":16},{"c":"r","x":529.5,"y":20},{"c":"r","x":529.9,"y":32},{"c":"r","x":530.2,"y":41},{"c":"r","x":530.4,"y":44},{"c":"r","x":530.6,"y":41},{"c":"r","x":530.9,"y":30},{"c":"r","x":531.2,"y":20},{"c":"r","x":531.6,"y":15},{"c":"r","x":532,"y":14},
{"c":"g","x":528,"y":14},{"c":"g","x":529.2,"y":16},{"c":"g","x":529.8,"y":20},{"c":"g","x":530.4,"y":26},{"c":"g","x":530.9,"y":29},{"c":"g","x":531.3,"y":29},{"c":"g","x":531.8,"y":26},{"c":"g","x":532.4,"y":21},{"c":"g","x":533,"y":17},{"c":"g","x":533.6,"y":15},{"c":"g","x":534.5,"y":14},{"c":"g","x":536,"y":14},
{"c":"b","x":528,"y":14},{"c":"b","x":530,"y":14.5},{"c":"b","x":531,"y":17},{"c":"b","x":531.6,"y":24},{"c":"b","x":532.1,"y":38},{"c":"b","x":532.5,"y":56},{"c":"b","x":532.9,"y":72},{"c":"b","x":533.2,"y":78},{"c":"b","x":533.5,"y":75},{"c":"b","x":533.9,"y":62},{"c":"b","x":534.3,"y":43},{"c":"b","x":534.7,"y":27},{"c":"b","x":535.1,"y":18.5},{"c":"b","x":535.6,"y":15},{"c":"b","x":536,"y":14.2},
{"c":"t","x":528,"y":16},{"c":"t","x":528.8,"y":19},{"c":"t","x":529.3,"y":22.5},{"c":"t","x":529.8,"y":35.5},{"c":"t","x":530.15,"y":50.6},{"c":"t","x":530.4,"y":58.4},{"c":"t","x":530.65,"y":54},{"c":"t","x":531,"y":42.9},{"c":"t","x":531.27,"y":39.8},{"c":"t","x":531.6,"y":42.9},{"c":"t","x":531.96,"y":52.8},{"c":"t","x":532.3,"y":68},{"c":"t","x":532.73,"y":79.7},{"c":"t","x":533.16,"y":81.8},{"c":"t","x":533.5,"y":78.8},{"c":"t","x":533.94,"y":63.6},{"c":"t","x":534.37,"y":45.5},{"c":"t","x":534.8,"y":34.2},{"c":"t","x":535.3,"y":29},{"c":"t","x":536,"y":26.8}],
"c3":[{"c":"r","x":528.5,"y":8},{"c":"r","x":529,"y":11},{"c":"r","x":529.4,"y":19},{"c":"r","x":529.8,"y":29},{"c":"r","x":530.1,"y":34},{"c":"r","x":530.4,"y":32},{"c":"r","x":530.8,"y":24},{"c":"r","x":531.2,"y":15},{"c":"r","x":531.6,"y":10},{"c":"r","x":532,"y":8.5},{"c":"r","x":533,"y":8},
{"c":"g","x":530,"y":8},{"c":"g","x":530.6,"y":10},{"c":"g","x":531,"y":18},{"c":"g","x":531.4,"y":36},{"c":"g","x":531.7,"y":53},{"c":"g","x":531.96,"y":62},{"c":"g","x":532.3,"y":56},{"c":"g","x":532.7,"y":38},{"c":"g","x":533.1,"y":21},{"c":"g","x":533.5,"y":11},{"c":"g","x":534,"y":8.5},{"c":"g","x":534.5,"y":8},
{"c":"b","x":528,"y":8},{"c":"b","x":529,"y":8.2},{"c":"b","x":530,"y":9.5},{"c":"b","x":531,"y":15},{"c":"b","x":531.6,"y":24},{"c":"b","x":532.2,"y":33},{"c":"b","x":532.65,"y":36},{"c":"b","x":533.2,"y":33},{"c":"b","x":533.8,"y":25},{"c":"b","x":534.4,"y":16},{"c":"b","x":535,"y":10.5},{"c":"b","x":535.6,"y":8.5},{"c":"b","x":536,"y":8},
{"c":"t","x":528,"y":7.8},{"c":"t","x":528.8,"y":10},{"c":"t","x":529.3,"y":20.8},{"c":"t","x":529.7,"y":31.6},{"c":"t","x":530.06,"y":34.6},{"c":"t","x":530.4,"y":35.9},{"c":"t","x":530.75,"y":42.4},{"c":"t","x":531.18,"y":57.6},{"c":"t","x":531.6,"y":74.9},{"c":"t","x":531.96,"y":82.3},{"c":"t","x":532.13,"y":83.1},{"c":"t","x":532.4,"y":79.2},{"c":"t","x":532.73,"y":66.2},{"c":"t","x":533.08,"y":51.1},{"c":"t","x":533.5,"y":35.9},{"c":"t","x":533.94,"y":25.1},{"c":"t","x":534.45,"y":17.3},{"c":"t","x":534.97,"y":13.4},{"c":"t","x":535.48,"y":11.3},{"c":"t","x":536,"y":10}],
"d1":[{"c":"r","x":928,"y":15.5},{"c":"r","x":930,"y":16},{"c":"r","x":931,"y":17.5},{"c":"r","x":931.5,"y":22},{"c":"r","x":931.9,"y":37},{"c":"r","x":932.2,"y":59},{"c":"r","x":932.45,"y":75},{"c":"r","x":932.58,"y":78.4},{"c":"r","x":932.75,"y":74},{"c":"r","x":933,"y":58},{"c":"r","x":933.3,"y":37},{"c":"r","x":933.6,"y":24},{"c":"r","x":934,"y":18.5},{"c":"r","x":934.6,"y":16.5},{"c":"r","x":936,"y":15.8},{"c":"r","x":938,"y":15.5},
{"c":"g","x":928,"y":15.5},{"c":"g","x":930,"y":16.5},{"c":"g","x":931,"y":18.5},{"c":"g","x":932,"y":21},{"c":"g","x":933,"y":22.8},{"c":"g","x":933.5,"y":23},{"c":"g","x":934.2,"y":22},{"c":"g","x":935,"y":20},{"c":"g","x":936,"y":18},{"c":"g","x":937,"y":16.5},{"c":"g","x":938,"y":15.8},
{"c":"t","x":928,"y":16},{"c":"t","x":929,"y":16.5},{"c":"t","x":930,"y":17.5},{"c":"t","x":930.8,"y":20},{"c":"t","x":931.3,"y":25},{"c":"t","x":931.7,"y":35},{"c":"t","x":932,"y":50},{"c":"t","x":932.3,"y":72},{"c":"t","x":932.5,"y":84},{"c":"t","x":932.6,"y":86},{"c":"t","x":932.75,"y":83},{"c":"t","x":933,"y":69},{"c":"t","x":933.3,"y":48},{"c":"t","x":933.6,"y":34},{"c":"t","x":934,"y":27},{"c":"t","x":934.5,"y":23.5},{"c":"t","x":935.2,"y":21},{"c":"t","x":936,"y":19.5},{"c":"t","x":937,"y":18},{"c":"t","x":938,"y":17}],
"d2":[{"c":"r","x":928,"y":13.5},{"c":"r","x":930,"y":14},{"c":"r","x":930.6,"y":16},{"c":"r","x":931,"y":21},{"c":"r","x":931.3,"y":33},{"c":"r","x":931.6,"y":60},{"c":"r","x":931.9,"y":78},{"c":"r","x":932.15,"y":70},{"c":"r","x":932.45,"y":46},{"c":"r","x":932.75,"y":27},{"c":"r","x":933.1,"y":18},{"c":"r","x":933.6,"y":14.5},{"c":"r","x":934.5,"y":13.5},{"c":"r","x":938,"y":13},
{"c":"g","x":928,"y":13.5},{"c":"g","x":929.5,"y":15},{"c":"g","x":930.5,"y":17.5},{"c":"g","x":931.5,"y":21},{"c":"g","x":932.5,"y":23},{"c":"g","x":933.5,"y":22},{"c":"g","x":934.5,"y":19.5},{"c":"g","x":935.5,"y":16.5},{"c":"g","x":936.5,"y":14.5},{"c":"g","x":938,"y":13},
{"c":"t","x":928,"y":13.9},{"c":"t","x":929,"y":14.5},{"c":"t","x":930,"y":16},{"c":"t","x":930.5,"y":18.5},{"c":"t","x":930.9,"y":24},{"c":"t","x":931.2,"y":35},{"c":"t","x":931.5,"y":58},{"c":"t","x":931.75,"y":78},{"c":"t","x":931.9,"y":84},{"c":"t","x":932.05,"y":81},{"c":"t","x":932.3,"y":66},{"c":"t","x":932.55,"y":45},{"c":"t","x":932.85,"y":30},{"c":"t","x":933.2,"y":24},{"c":"t","x":933.6,"y":21},{"c":"t","x":934.2,"y":19},{"c":"t","x":935,"y":17},{"c":"t","x":936,"y":15.5},{"c":"t","x":937,"y":14},{"c":"t","x":938,"y":13}],
"d3":[{"c":"r","x":928,"y":7.5},{"c":"r","x":930,"y":8.5},{"c":"r","x":930.8,"y":11},{"c":"r","x":931.3,"y":20},{"c":"r","x":931.65,"y":40},{"c":"r","x":931.95,"y":65},{"c":"r","x":932.19,"y":75},{"c":"r","x":932.4,"y":68},{"c":"r","x":932.65,"y":48},{"c":"r","x":932.9,"y":28},{"c":"r","x":933.2,"y":15},{"c":"r","x":933.6,"y":10},{"c":"r","x":934.5,"y":8},{"c":"r","x":938,"y":7.5},
{"c":"g","x":928,"y":7.5},{"c":"g","x":929.5,"y":9.5},{"c":"g","x":930.5,"y":12.5},{"c":"g","x":931.5,"y":17.5},{"c":"g","x":932.5,"y":23},{"c":"g","x":933.2,"y":25},{"c":"g","x":934,"y":23.5},{"c":"g","x":935,"y":18},{"c":"g","x":936,"y":13},{"c":"g","x":937,"y":10},{"c":"g","x":938,"y":8.5},
{"c":"t","x":928,"y":7.8},{"c":"t","x":929,"y":8.5},{"c":"t","x":930,"y":10.5},{"c":"t","x":930.5,"y":12},{"c":"t","x":931,"y":19},{"c":"t","x":931.4,"y":33},{"c":"t","x":931.7,"y":50},{"c":"t","x":931.95,"y":72},{"c":"t","x":932.19,"y":81.4},{"c":"t","x":932.4,"y":76},{"c":"t","x":932.6,"y":62},{"c":"t","x":932.85,"y":46},{"c":"t","x":933.1,"y":34},{"c":"t","x":933.4,"y":27},{"c":"t","x":933.9,"y":21},{"c":"t","x":934.5,"y":16},{"c":"t","x":935.2,"y":13},{"c":"t","x":936,"y":11},{"c":"t","x":937,"y":9.5},{"c":"t","x":938,"y":8.7}],
"lab":[
{"p":"a1","c":"r","t":"sp²","x":283.2,"y":72.7},{"p":"a1","c":"g","t":"sp³","x":286.0,"y":66},{"p":"a1","c":"b","t":"C–O and C=N","x":288.2,"y":55},{"p":"a1","c":"p","t":"C–N","x":289.3,"y":34},
{"p":"a2","c":"r","t":"sp²","x":283.2,"y":73},{"p":"a2","c":"g","t":"sp³","x":286.0,"y":64.5},{"p":"a2","c":"b","t":"C–O and C=N","x":288.3,"y":56},{"p":"a2","c":"p","t":"C–N","x":289.2,"y":38.5},
{"p":"a3","c":"g","t":"sp³","x":283.55,"y":78},{"p":"a3","c":"r","t":"sp²","x":282.6,"y":50},{"p":"a3","c":"b","t":"C–O","x":286.55,"y":45.5},{"p":"a3","c":"p","t":"O–C=O","x":288.7,"y":45.5},
{"p":"b1","c":"r","t":"Pyridinic N","x":397.2,"y":66},{"p":"b1","c":"g","t":"Amino N","x":400.0,"y":85.7},{"p":"b1","c":"b","t":"Graphitic N","x":404.8,"y":66},{"p":"b1","c":"p","t":"Oxygenated N","x":402.9,"y":12},
{"p":"b2","c":"g","t":"Amino N","x":399.55,"y":73},{"p":"b2","c":"r","t":"Pyridinic N","x":397.4,"y":66.7},{"p":"b2","c":"b","t":"Graphitic N","x":404.7,"y":58},{"p":"b2","c":"p","t":"Oxygenated N","x":404.05,"y":12.5},
{"p":"b3","c":"r","t":"Pyridinic N","x":397.3,"y":71.4},{"p":"b3","c":"g","t":"Amino N","x":401.8,"y":69},{"p":"b3","c":"b","t":"Graphitic N","x":403.0,"y":43},{"p":"b3","c":"p","t":"Oxygenated N","x":404.7,"y":31.6},
{"p":"c1","c":"r","t":"Cu₂O","x":529.46,"y":76},{"p":"c1","c":"g","t":"Cu(OH)₂","x":531.35,"y":76},{"p":"c1","c":"b","t":"C–O","x":534.7,"y":76},
{"p":"c2","c":"r","t":"Cu₂O","x":529.38,"y":70},{"p":"c2","c":"g","t":"Cu(OH)₂","x":530.67,"y":76.6},{"p":"c2","c":"b","t":"C–O","x":535.0,"y":65.8},
{"p":"c3","c":"g","t":"Cu(OH)₂","x":530.06,"y":79},{"p":"c3","c":"r","t":"Cu₂O","x":528.86,"y":40},{"p":"c3","c":"b","t":"C–O","x":535.3,"y":46.8},
{"p":"d1","c":"r","t":"Cu 2p₃/₂ and Cu₂O","x":935.0,"y":67.5},{"p":"d1","c":"g","t":"Cu(OH)₂","x":936.28,"y":28.6},
{"p":"d2","c":"r","t":"Cu 2p₃/₂ and Cu₂O","x":934.3,"y":67},{"p":"d2","c":"g","t":"Cu(OH)₂","x":935.55,"y":32},
{"p":"d3","c":"r","t":"Cu 2p₃/₂ and Cu₂O","x":935.1,"y":68.4},{"p":"d3","c":"g","t":"Cu(OH)₂","x":935.96,"y":40.3}],
"arr":[
{"p":"a1","c":"r","x":283.5,"y":66,"x2":284.15,"y2":58},{"p":"a1","c":"g","x":286.0,"y":60,"x2":285.6,"y2":33},{"p":"a1","c":"b","x":287.4,"y":47,"x2":286.9,"y2":31},{"p":"a1","c":"p","x":289.0,"y":29,"x2":289.0,"y2":21},
{"p":"a2","c":"r","x":283.5,"y":67,"x2":284.15,"y2":60},{"p":"a2","c":"g","x":286.0,"y":58,"x2":285.6,"y2":32},{"p":"a2","c":"b","x":287.3,"y":47,"x2":286.8,"y2":35.5},{"p":"a2","c":"p","x":289.0,"y":33,"x2":289.0,"y2":23},
{"p":"a3","c":"g","x":283.9,"y":74,"x2":284.55,"y2":65},{"p":"a3","c":"r","x":282.9,"y":45.5,"x2":283.9,"y2":34.6},{"p":"a3","c":"b","x":286.45,"y":40,"x2":286.2,"y2":18},{"p":"a3","c":"p","x":288.6,"y":40,"x2":288.4,"y2":15},
{"p":"b1","c":"r","x":397.7,"y":60,"x2":398.0,"y2":49},{"p":"b1","c":"g","x":400.1,"y":80,"x2":400.4,"y2":62},{"p":"b1","c":"b","x":404.0,"y":60,"x2":403.1,"y2":48},{"p":"b1","c":"p","x":403.6,"y":16,"x2":404.2,"y2":25},
{"p":"b2","c":"g","x":400.0,"y":67,"x2":400.15,"y2":58},{"p":"b2","c":"r","x":397.8,"y":61,"x2":398.3,"y2":47},{"p":"b2","c":"b","x":403.9,"y":52,"x2":403.1,"y2":42},{"p":"b2","c":"p","x":402.6,"y":15,"x2":402.4,"y2":22},
{"p":"b3","c":"r","x":397.6,"y":66,"x2":398.0,"y2":43},{"p":"b3","c":"g","x":401.3,"y":66,"x2":400.9,"y2":60},{"p":"b3","c":"b","x":402.2,"y":38,"x2":400.8,"y2":22},{"p":"b3","c":"p","x":404.5,"y":28,"x2":404.3,"y2":22},
{"p":"c1","c":"r","x":529.8,"y":70,"x2":530.15,"y2":57},{"p":"c1","c":"g","x":531.45,"y":24,"x2":531.45,"y2":68},{"p":"c1","c":"b","x":534.4,"y":72,"x2":534.0,"y2":65},
{"p":"c2","c":"r","x":529.8,"y":65,"x2":530.15,"y2":50},{"p":"c2","c":"g","x":531.27,"y":38,"x2":531.27,"y2":62},{"p":"c2","c":"b","x":534.7,"y":63,"x2":534.3,"y2":55},
{"p":"c3","c":"g","x":531.0,"y":72.7,"x2":531.8,"y2":57.6},{"p":"c3","c":"r","x":529.38,"y":38,"x2":529.72,"y2":31.6},{"p":"c3","c":"b","x":534.97,"y":42.4,"x2":534.37,"y2":27.3},
{"p":"d1","c":"r","x":933.48,"y":65.4,"x2":933.16,"y2":61},{"p":"d1","c":"g","x":935.3,"y":26.4,"x2":934.1,"y2":22},
{"p":"d2","c":"r","x":932.95,"y":68,"x2":932.5,"y2":61.5},{"p":"d2","c":"g","x":934.8,"y":28,"x2":933.6,"y2":23},
{"p":"d3","c":"r","x":933.48,"y":64,"x2":932.84,"y2":57.6},{"p":"d3","c":"g","x":935.1,"y":36,"x2":933.9,"y2":25}],
"tit":[
{"p":"a1","t":"NG/Cu-NWs;M50","x":289.85,"y":92},{"p":"a2","t":"NG/Cu-NWs;M20","x":289.85,"y":92},{"p":"a3","t":"as-grown Cu NWs","x":289.85,"y":92},
{"p":"b1","t":"NG/Cu-NWs;M50","x":405.85,"y":92},{"p":"b2","t":"NG/Cu-NWs;M20","x":405.85,"y":92},{"p":"b3","t":"as-grown Cu NWs","x":405.85,"y":92},
{"p":"c1","t":"NG/Cu-NWs;M50","x":535.88,"y":92},{"p":"c2","t":"NG/Cu-NWs;M20","x":535.88,"y":92},{"p":"c3","t":"as-grown Cu NWs","x":535.88,"y":92},
{"p":"d1","t":"NG/Cu-NWs;M50","x":937.85,"y":92},{"p":"d2","t":"NG/Cu-NWs;M20","x":937.85,"y":92},{"p":"d3","t":"as-grown Cu NWs","x":937.85,"y":92}],
"let":[{"p":"a","t":"(a)","x":280.15,"y":86},{"p":"b","t":"(b)","x":396.15,"y":86},{"p":"c","t":"(c)","x":528.1,"y":86},{"p":"d","t":"(d)","x":928.15,"y":86}]
},
"config":{
"view":{"stroke":"#000","strokeWidth":1},
"axis":{"grid":false,"labelFont":"Liberation Serif","titleFont":"Liberation Serif","labelFontWeight":"bold","titleFontWeight":"bold","labelFontSize":10,"titleFontSize":10,"labelColor":"#000","titleColor":"#000","tickColor":"#000"},
"text":{"font":"Liberation Serif","fontWeight":"bold","baseline":"middle"}
}
}
